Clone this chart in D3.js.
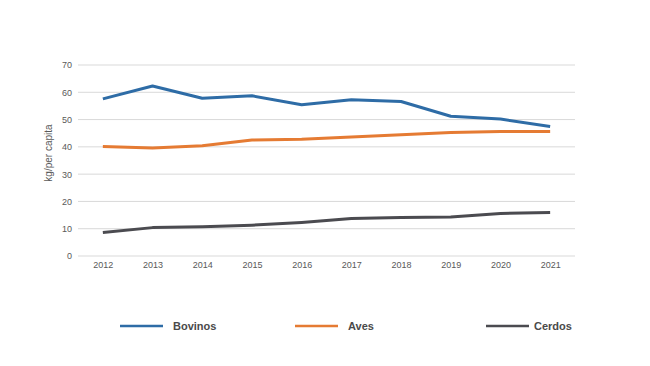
<!DOCTYPE html>
<html>
<head>
  <script src="https://d3js.org/d3.v7.min.js"></script>
  <style>
    body { margin: 0; background: #fff; }
    .chart { font-family: "Liberation Sans", Arial, sans-serif; }
    .axis-label { font-family: "Liberation Sans", Arial, sans-serif; font-size: 9px; fill: #595959; }
    .axis-title { font-family: "Liberation Sans", Arial, sans-serif; font-size: 10px; fill: #595959; }
    .legend-label { font-family: "Liberation Sans", Arial, sans-serif; font-size: 11px; font-weight: bold; fill: #4a4a4a; }
  </style>
</head>
<body>
  <svg class="chart" width="650" height="366"></svg>

  <script>
    // Data
    const years = ["2012", "2013", "2014", "2015", "2016", "2017", "2018", "2019", "2020", "2021"];
    const bovinos = [57.6, 62.3, 57.8, 58.7, 55.4, 57.3, 56.6, 51.2, 50.2, 47.5];
    const aves = [40.1, 39.6, 40.4, 42.5, 42.8, 43.6, 44.4, 45.3, 45.6, 45.6];
    const cerdos = [8.6, 10.4, 10.7, 11.3, 12.3, 13.7, 14.1, 14.3, 15.6, 15.9];
    const yTicks = [0, 10, 20, 30, 40, 50, 60, 70];

    const series = [
      { name: "Bovinos", values: bovinos, color: "#2e6ca6" },
      { name: "Aves", values: aves, color: "#e57b33" },
      { name: "Cerdos", values: cerdos, color: "#4b4b50" }
    ];

    const svg = d3.select("svg");
    const margin = { top: 65, right: 75, bottom: 110, left: 78 };
    const innerWidth = 650 - margin.left - margin.right;
    const innerHeight = 366 - margin.top - margin.bottom;

    const x = d3.scalePoint()
      .domain(years)
      .range([0, innerWidth])
      .padding(0.5);

    const y = d3.scaleLinear()
      .domain([0, 70])
      .range([innerHeight, 0]);

    const chart = svg.append("g")
      .attr("transform", `translate(${margin.left}, ${margin.top})`);

    // Gridlines
    chart.append("g")
      .selectAll("line")
      .data(yTicks)
      .enter().append("line")
      .attr("x1", 0)
      .attr("x2", innerWidth)
      .attr("y1", d => y(d))
      .attr("y2", d => y(d))
      .attr("stroke", "#d9d9d9")
      .attr("stroke-width", 1);

    // Y axis labels
    const yAxis = chart.append("g")
      .call(d3.axisLeft(y).tickValues(yTicks).tickSize(0).tickPadding(6));
    yAxis.select(".domain").remove();
    yAxis.selectAll(".tick text").attr("class", "axis-label");

    // X axis labels
    const xAxis = chart.append("g")
      .attr("transform", `translate(0, ${innerHeight})`)
      .call(d3.axisBottom(x).tickSize(0).tickPadding(6));
    xAxis.select(".domain").remove();
    xAxis.selectAll(".tick text").attr("class", "axis-label");

    // Y axis title
    svg.append("text")
      .attr("class", "axis-title")
      .attr("transform", "translate(52, 153) rotate(-90)")
      .attr("text-anchor", "middle")
      .text("kg/per capita");

    // Lines
    const line = d3.line()
      .x((d, i) => x(years[i]))
      .y(d => y(d));

    chart.selectAll(".series")
      .data(series)
      .enter().append("path")
      .attr("class", "series")
      .attr("fill", "none")
      .attr("stroke", d => d.color)
      .attr("stroke-width", 3)
      .attr("stroke-linejoin", "round")
      .attr("d", d => line(d.values));

    // Legend
    const legendX = [120, 295, 486];
    const legend = svg.selectAll(".legend")
      .data(series)
      .enter().append("g")
      .attr("class", "legend")
      .attr("transform", (d, i) => `translate(${legendX[i]}, 326)`);

    legend.append("line")
      .attr("x1", 0)
      .attr("x2", 43)
      .attr("stroke", d => d.color)
      .attr("stroke-width", 2.5);

    legend.append("text")
      .attr("class", "legend-label")
      .attr("x", (d, i) => i === 2 ? 48 : 53)
      .attr("dy", "0.35em")
      .text(d => d.name);
  </script>
</body>
</html>
